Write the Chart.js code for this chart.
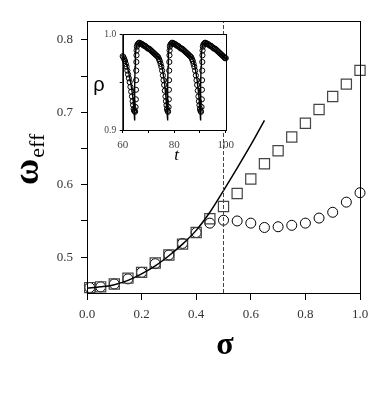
<!DOCTYPE html>
<html>
<head>
<meta charset="utf-8">
<script src="https://cdn.jsdelivr.net/npm/chart.js@4.4.1/dist/chart.umd.min.js"></script>
<style>
  body { margin: 0; background: #fff; }
  #wrap { position: relative; width: 388px; height: 401px; }
  #main { position: absolute; left: 0; top: 0; }
  #inset { position: absolute; left: 90px; top: 25px; }
</style>
</head>
<body>
<div id="wrap">
  <canvas id="main" width="388" height="401"></canvas>
  <canvas id="inset" width="150" height="140"></canvas>
</div>
<script>
// main panel: omega_eff vs sigma
const sigma = [0.01, 0.05, 0.1, 0.15, 0.2, 0.25, 0.3, 0.35, 0.4, 0.45, 0.5,
  0.55, 0.6, 0.65, 0.7, 0.75, 0.8, 0.85, 0.9, 0.95, 1.0];
const omegaSquares = [0.458, 0.459, 0.463, 0.471, 0.479, 0.492, 0.503, 0.518, 0.534, 0.553, 0.570,
  0.588, 0.608, 0.629, 0.647, 0.666, 0.685, 0.704, 0.722, 0.739, 0.758];
const omegaCircles = [0.458, 0.459, 0.463, 0.470, 0.479, 0.491, 0.503, 0.519, 0.534, 0.547, 0.551,
  0.550, 0.547, 0.541, 0.542, 0.544, 0.547, 0.554, 0.562, 0.576, 0.589];

const sigmaTheory = [0, 0.05, 0.1, 0.15, 0.2, 0.25, 0.3, 0.35, 0.4, 0.45, 0.5, 0.55, 0.6, 0.65];
const omegaTheory = [0.457, 0.459, 0.462, 0.468, 0.477, 0.488, 0.502, 0.518, 0.537, 0.562, 0.592, 0.623, 0.655, 0.689];

const sigmaCritical = 0.5;

const xTicks = [0, 0.2, 0.4, 0.6, 0.8, 1.0];
const xTickLabels = ['0.0', '0.2', '0.4', '0.6', '0.8', '1.0'];
const yTicks = [0.5, 0.55, 0.6, 0.65, 0.7, 0.75, 0.8];
const yTickLabels = ['0.5', '', '0.6', '', '0.7', '', '0.8'];
const yMin = 0.4505, yMax = 0.8262;

// inset: rho vs t
const tTheory = [60.0, 60.6, 61.2, 61.8, 62.4, 63.0, 63.5, 63.9, 64.2, 64.45, 64.6,
  64.7, 64.8, 64.95, 65.2, 65.6, 66.2, 67.0, 68.0, 69.0, 70.0, 71.0, 72.0, 73.0, 73.8,
  74.4, 74.9, 75.4, 75.8, 76.2, 76.5, 76.8, 77.05, 77.25, 77.4,
  77.5, 77.6, 77.75, 78.0, 78.4, 79.0, 79.8, 80.8, 81.8, 82.8, 83.8, 84.8, 85.8, 86.6,
  87.2, 87.7, 88.2, 88.6, 89.0, 89.3, 89.6, 89.85, 90.05, 90.2,
  90.3, 90.4, 90.55, 90.8, 91.2, 91.8, 92.6, 93.6, 94.6, 95.6, 96.6, 97.6, 98.6, 99.4, 100.0];
const rhoTheory = [0.977, 0.975, 0.971, 0.966, 0.959, 0.951, 0.943, 0.935, 0.927, 0.918, 0.910,
  0.945, 0.966, 0.979, 0.986, 0.989, 0.991, 0.990, 0.988, 0.986, 0.984, 0.982, 0.980, 0.978, 0.976,
  0.974, 0.970, 0.964, 0.957, 0.950, 0.942, 0.934, 0.925, 0.918, 0.910,
  0.945, 0.966, 0.979, 0.986, 0.989, 0.991, 0.990, 0.988, 0.986, 0.984, 0.982, 0.980, 0.978, 0.976,
  0.974, 0.970, 0.964, 0.957, 0.950, 0.942, 0.934, 0.925, 0.918, 0.910,
  0.945, 0.966, 0.979, 0.986, 0.989, 0.991, 0.990, 0.988, 0.986, 0.984, 0.982, 0.980, 0.978, 0.976, 0.974];

const tSim = [60.0, 60.3, 60.6, 60.9, 61.2, 61.5, 61.8, 62.1, 62.4, 62.7, 63.0, 63.3, 63.6, 63.85,
  64.05, 64.25, 64.45, 64.6, 64.8,
  65.0, 65.1, 65.15, 65.2, 65.25, 65.3, 65.35, 65.4, 65.5, 65.7, 66.0, 66.3, 66.6, 67.0, 67.4,
  67.8, 68.2, 68.6, 69.0, 69.4, 69.8, 70.2, 70.6, 71.0, 71.4, 71.8, 72.2, 72.6, 73.0, 73.4, 73.8,
  74.1, 74.4, 74.7, 75.0, 75.3, 75.6, 75.85, 76.1, 76.35, 76.6, 76.8, 77.0, 77.2, 77.4, 77.6,
  77.8, 77.9, 77.95, 78.0, 78.05, 78.1, 78.15, 78.2, 78.3, 78.5, 78.8, 79.1, 79.4, 79.8, 80.2,
  80.6, 81.0, 81.4, 81.8, 82.2, 82.6, 83.0, 83.4, 83.8, 84.2, 84.6, 85.0, 85.4, 85.8, 86.2, 86.6,
  86.9, 87.2, 87.5, 87.8, 88.1, 88.4, 88.65, 88.9, 89.15, 89.4, 89.6, 89.8, 90.0, 90.2, 90.4,
  90.6, 90.7, 90.75, 90.8, 90.85, 90.9, 90.95, 91.0, 91.1, 91.3, 91.6, 91.9, 92.2, 92.6, 93.0,
  93.4, 93.8, 94.2, 94.6, 95.0, 95.4, 95.8, 96.2, 96.6, 97.0, 97.4, 97.8, 98.2, 98.6, 99.0, 99.4,
  99.7, 100.0];
const rhoSim = [0.977, 0.976, 0.974, 0.972, 0.969, 0.966, 0.962, 0.958, 0.954, 0.950, 0.945, 0.940, 0.935, 0.930,
  0.926, 0.922, 0.920, 0.920, 0.919,
  0.924, 0.932, 0.942, 0.952, 0.962, 0.971, 0.978, 0.983, 0.987, 0.989, 0.990, 0.991, 0.991, 0.990, 0.990,
  0.989, 0.988, 0.988, 0.987, 0.986, 0.985, 0.985, 0.984, 0.983, 0.982, 0.981, 0.980, 0.979, 0.978, 0.977, 0.976,
  0.974, 0.972, 0.969, 0.966, 0.962, 0.957, 0.952, 0.947, 0.941, 0.935, 0.930, 0.926, 0.922, 0.920, 0.919,
  0.924, 0.932, 0.942, 0.952, 0.962, 0.971, 0.978, 0.983, 0.987, 0.989, 0.990, 0.991, 0.991, 0.990, 0.990,
  0.989, 0.988, 0.988, 0.987, 0.986, 0.985, 0.985, 0.984, 0.983, 0.982, 0.981, 0.980, 0.979, 0.978, 0.977, 0.976,
  0.974, 0.972, 0.969, 0.966, 0.962, 0.957, 0.952, 0.947, 0.941, 0.935, 0.930, 0.926, 0.922, 0.920, 0.919,
  0.924, 0.932, 0.942, 0.952, 0.962, 0.971, 0.978, 0.983, 0.987, 0.989, 0.990, 0.991, 0.991, 0.990, 0.990,
  0.989, 0.988, 0.988, 0.987, 0.986, 0.985, 0.985, 0.984, 0.983, 0.982, 0.981, 0.980, 0.979, 0.978, 0.977, 0.976,
  0.975, 0.975];

const tTicks = [60, 70, 80, 90, 100];
const tTickLabels = ['60', '', '80', '', '100'];
const rhoTicks = [0.9, 0.95, 1.0];
const rhoTickLabels = ['0.9', '', '1.0'];

const toPoints = (xs, ys) => xs.map((x, i) => ({ x: x, y: ys[i] }));

const SERIF = "'Liberation Serif', 'Times New Roman', serif";

// box around the plot area, optional white fill
const boxPlugin = {
  id: 'box',
  beforeDatasetsDraw(chart, args, opts) {
    if (!opts.fill) return;
    const a = chart.chartArea, ctx = chart.ctx;
    ctx.save();
    ctx.fillStyle = '#fff';
    ctx.fillRect(a.left, a.top, a.right - a.left, a.bottom - a.top);
    ctx.restore();
  },
  afterDraw(chart) {
    const a = chart.chartArea, ctx = chart.ctx;
    ctx.save();
    ctx.strokeStyle = '#000';
    ctx.lineWidth = 1;
    ctx.strokeRect(Math.round(a.left) + 0.5, Math.round(a.top) + 0.5,
      Math.round(a.right - a.left), Math.round(a.bottom - a.top));
    ctx.restore();
  }
};

// axis titles of the main panel
const mainTitles = {
  id: 'mainTitles',
  afterDraw(chart) {
    const ctx = chart.ctx;
    ctx.save();
    ctx.fillStyle = '#000';
    ctx.textBaseline = 'alphabetic';
    ctx.textAlign = 'center';
    ctx.font = 'bold 32px ' + SERIF;
    ctx.fillText('σ', 225, 354);

    ctx.translate(38, 185);
    ctx.rotate(-Math.PI / 2);
    ctx.textAlign = 'left';
    ctx.font = 'bold 36px ' + SERIF;
    ctx.fillText('ω', 0, 0);
    const w = ctx.measureText('ω').width;
    ctx.font = '22px ' + SERIF;
    ctx.fillText('eff', w + 1, 6);
    ctx.restore();
  }
};

const insetTitles = {
  id: 'insetTitles',
  afterDraw(chart) {
    const ctx = chart.ctx;
    ctx.save();
    ctx.fillStyle = '#000';
    ctx.textBaseline = 'alphabetic';
    ctx.textAlign = 'center';
    ctx.font = "20px 'Liberation Sans', Arial, sans-serif";
    ctx.fillText('ρ', 9, 66);
    ctx.font = 'italic 17px ' + SERIF;
    ctx.fillText('t', 86.5, 135);
    ctx.restore();
  }
};

new Chart(document.getElementById('main'), {
  type: 'scatter',
  data: {
    datasets: [
      {
        data: [{ x: sigmaCritical, y: yMin }, { x: sigmaCritical, y: yMax }],
        showLine: true, borderColor: '#444', borderWidth: 1, borderDash: [4, 2],
        pointRadius: 0, clip: false
      },
      {
        data: toPoints(sigmaTheory, omegaTheory),
        showLine: true, borderColor: '#000', borderWidth: 1.5, cubicInterpolationMode: 'monotone',
        pointRadius: 0, clip: false
      },
      {
        data: toPoints(sigma, omegaSquares),
        pointStyle: 'rect', pointRadius: 7.2, borderColor: '#444', borderWidth: 1.2,
        backgroundColor: 'rgba(0,0,0,0)', clip: false
      },
      {
        data: toPoints(sigma, omegaCircles),
        pointStyle: 'circle', pointRadius: 5, borderColor: '#000', borderWidth: 1,
        backgroundColor: 'rgba(0,0,0,0)', clip: false
      }
    ]
  },
  options: {
    responsive: false,
    animation: false,
    devicePixelRatio: 1,
    layout: { padding: { top: 21, right: 28, left: 0, bottom: 0 } },
    plugins: { legend: { display: false }, tooltip: { enabled: false }, box: { fill: false } },
    scales: {
      x: {
        type: 'linear', min: 0, max: 1,
        afterBuildTicks: (s) => { s.ticks = xTicks.map(v => ({ value: v })); },
        afterFit: (s) => { s.height = 108; },
        grid: { drawOnChartArea: false, tickLength: 7, color: '#000' },
        border: { color: '#000', width: 1 },
        ticks: {
          callback: (v, i) => xTickLabels[i], padding: 7, maxRotation: 0, autoSkip: false,
          color: '#333', font: { family: SERIF, size: 13 }
        }
      },
      y: {
        type: 'linear', min: yMin, max: yMax,
        afterBuildTicks: (s) => { s.ticks = yTicks.map(v => ({ value: v })); },
        afterFit: (s) => { s.width = 87; },
        grid: { drawOnChartArea: false, tickLength: 6, color: '#000' },
        border: { color: '#000', width: 1 },
        ticks: {
          callback: (v, i) => yTickLabels[i], padding: 8, autoSkip: false,
          color: '#333', font: { family: SERIF, size: 13 }
        }
      }
    }
  },
  plugins: [boxPlugin, mainTitles]
});

new Chart(document.getElementById('inset'), {
  type: 'scatter',
  data: {
    datasets: [
      {
        data: toPoints(tSim, rhoSim),
        pointStyle: 'circle', pointRadius: 2.6, borderColor: '#000', borderWidth: 1,
        backgroundColor: 'rgba(0,0,0,0)', clip: false
      },
      {
        data: toPoints(tTheory, rhoTheory),
        showLine: true, borderColor: '#000', borderWidth: 1.4,
        pointRadius: 0, clip: false
      }
    ]
  },
  options: {
    responsive: false,
    animation: false,
    devicePixelRatio: 1,
    layout: { padding: { top: 7.7, right: 8.3, left: 0, bottom: 0 } },
    plugins: { legend: { display: false }, tooltip: { enabled: false }, box: { fill: true } },
    scales: {
      x: {
        type: 'linear', min: 60, max: 100,
        afterBuildTicks: (s) => { s.ticks = tTicks.map(v => ({ value: v })); },
        afterFit: (s) => { s.height = 35; },
        grid: { drawOnChartArea: false, tickLength: 3, color: '#000' },
        border: { color: '#000', width: 1 },
        ticks: {
          callback: (v, i) => tTickLabels[i], padding: 6, maxRotation: 0, autoSkip: false,
          color: '#444', font: { family: SERIF, size: 11 }
        }
      },
      y: {
        type: 'linear', min: 0.9, max: 1.0,
        afterBuildTicks: (s) => { s.ticks = rhoTicks.map(v => ({ value: v })); },
        afterFit: (s) => { s.width = 32.7; },
        grid: { drawOnChartArea: false, tickLength: 3, color: '#000' },
        border: { color: '#000', width: 1 },
        ticks: {
          callback: (v, i) => rhoTickLabels[i], padding: 3.5, autoSkip: false,
          color: '#444', font: { family: SERIF, size: 9.5 }
        }
      }
    }
  },
  plugins: [boxPlugin, insetTitles]
});
</script>
</body>
</html>
